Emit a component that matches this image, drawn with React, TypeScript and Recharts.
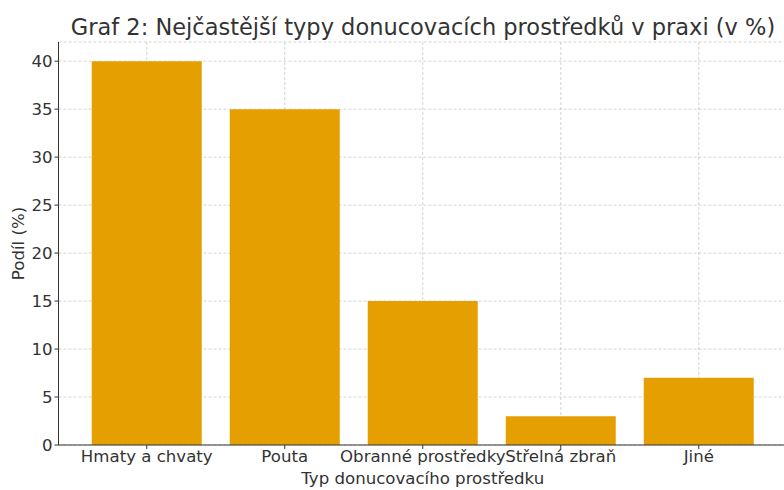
import React from "react";
import { BarChart, Bar, XAxis, YAxis, CartesianGrid, Label } from "recharts";

const categories = ["Hmaty a chvaty", "Pouta", "Obranné prostředky", "Střelná zbraň", "Jiné"];
const shares = [40, 35, 15, 3, 7];
const yTicks = [0, 5, 10, 15, 20, 25, 30, 35, 40];

const data = categories.map((name, i) => ({ name, value: shares[i] }));

const FONT = "DejaVu Sans, sans-serif";
const TEXT = "#333333";
const FS = 16.6;

export default function App() {
  return (
    <div
      style={{
        position: "fixed",
        left: 0,
        top: 0,
        width: 784,
        height: 490,
        overflow: "hidden",
        background: "#fff",
        fontFamily: FONT,
      }}
    >
      <div
        style={{
          position: "absolute",
          left: 423,
          top: 13,
          transform: "translateX(-50%)",
          whiteSpace: "nowrap",
          fontSize: 22.5,
          color: TEXT,
          lineHeight: "28px",
        }}
      >
        Graf 2: Nejčastější typy donucovacích prostředků v praxi (v %)
      </div>
      <BarChart
        width={800}
        height={490}
        data={data}
        margin={{ top: 42, right: 13, left: 0, bottom: 0 }}
      >
        <XAxis
          dataKey="name"
          height={45}
          padding={{ left: 19.25, right: 19.25 }}
          tick={{ fill: TEXT, fontSize: FS, fontFamily: FONT }}
          tickSize={4}
          tickMargin={1}
          stroke={TEXT}
          interval={0}
        >
          <Label
            value="Typ donucovacího prostředku"
            position="insideBottom"
            offset={6}
            style={{ fill: TEXT, fontSize: FS, fontFamily: FONT }}
          />
        </XAxis>
        <YAxis
          width={58.5}
          domain={[0, 42]}
          ticks={yTicks}
          tick={{ fill: TEXT, fontSize: FS, fontFamily: FONT }}
          tickSize={4}
          tickMargin={2}
          stroke={TEXT}
        >
          <Label
            value="Podíl (%)"
            angle={-90}
            position="insideLeft"
            offset={18}
            style={{ fill: TEXT, fontSize: FS, fontFamily: FONT, textAnchor: "middle" }}
          />
        </YAxis>
        <Bar dataKey="value" fill="#E69F00" barSize={110} isAnimationActive={false} />
        <CartesianGrid stroke="#b0b0b0" strokeOpacity={0.55} strokeDasharray="3 2" />
      </BarChart>
    </div>
  );
}
